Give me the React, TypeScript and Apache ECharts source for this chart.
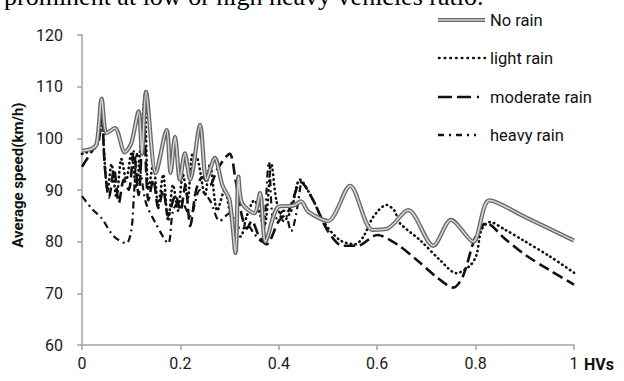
import React, { useEffect, useRef } from "react";
import * as echarts from "echarts";

// ---- data ----
const noRainX = [0, 0.02, 0.03, 0.04, 0.05, 0.067, 0.087, 0.1, 0.115, 0.122, 0.13, 0.15, 0.172, 0.18, 0.189, 0.199, 0.209, 0.22, 0.24, 0.253, 0.27, 0.285, 0.3, 0.312, 0.318, 0.325, 0.35, 0.362, 0.373, 0.4, 0.43, 0.445, 0.46, 0.5, 0.545, 0.59, 0.62, 0.663, 0.714, 0.75, 0.795, 0.828, 0.9, 1];
const noRainY = [97.6, 98, 99, 107.7, 101, 102, 97.3, 99, 105.2, 97, 109, 93.3, 101.6, 93.3, 100.3, 92, 97.1, 92, 102.6, 92, 96.2, 91, 88, 77.8, 92.6, 87.5, 85.5, 89.4, 80, 86.8, 87, 87.8, 85.8, 84, 90.8, 82.3, 82.5, 86.1, 79.2, 84.2, 80, 88, 84.8, 80.2];

const lightX = [0, 0.025, 0.035, 0.04, 0.045, 0.052, 0.06, 0.07, 0.08, 0.09, 0.1, 0.11, 0.12, 0.127, 0.135, 0.145, 0.155, 0.165, 0.175, 0.185, 0.195, 0.205, 0.215, 0.225, 0.235, 0.25, 0.26, 0.275, 0.29, 0.3, 0.31, 0.322, 0.335, 0.35, 0.37, 0.385, 0.395, 0.41, 0.425, 0.443, 0.47, 0.49, 0.524, 0.555, 0.572, 0.592, 0.619, 0.635, 0.646, 0.687, 0.728, 0.761, 0.79, 0.802, 0.812, 0.829, 0.86, 0.896, 0.95, 1];
const lightY = [97, 98, 100, 107, 97, 90, 95, 88.5, 96, 92, 97, 90.5, 100, 107.5, 90, 95, 87, 93, 84, 91, 86, 93, 88.5, 97, 96, 89, 95, 86, 90, 86, 82, 81, 85, 88, 83, 95, 88, 84, 86, 92, 88, 84, 80.3, 79.5, 81, 84.8, 87.1, 86, 83.6, 80.3, 76.4, 73.9, 75.5, 77.5, 82.3, 83.8, 82.3, 80.3, 77.2, 74];

const moderateX = [0, 0.022, 0.035, 0.04, 0.046, 0.055, 0.065, 0.075, 0.085, 0.095, 0.105, 0.115, 0.125, 0.135, 0.145, 0.155, 0.165, 0.175, 0.19, 0.2, 0.21, 0.22, 0.232, 0.245, 0.26, 0.275, 0.3, 0.312, 0.325, 0.335, 0.345, 0.36, 0.375, 0.4, 0.42, 0.445, 0.47, 0.5, 0.53, 0.56, 0.6, 0.64, 0.68, 0.72, 0.755, 0.775, 0.8, 0.822, 0.86, 0.9, 0.95, 1];
const moderateY = [94.5, 97.8, 100, 106.5, 95, 88.5, 94, 87.5, 92, 90, 97.5, 89, 104, 88, 92, 86.5, 90, 85, 89, 86, 91, 83, 90, 92.5, 91, 94, 97, 92, 85, 82.5, 84, 81, 79.5, 84, 86, 91.5, 88, 82, 79.2, 79.2, 81.3, 79.5, 76.5, 73.2, 71.1, 73.5, 81, 83.6, 80.5, 77.5, 74.5, 71.7];

const heavyX = [0, 0.02, 0.04, 0.065, 0.09, 0.1, 0.105, 0.112, 0.12, 0.13, 0.15, 0.175, 0.185, 0.2, 0.22, 0.24, 0.26, 0.28, 0.3, 0.32, 0.335, 0.35, 0.365, 0.38, 0.39, 0.41, 0.425, 0.445];
const heavyY = [88.8, 86.4, 84.5, 81, 79.7, 82, 88, 97, 93, 87.5, 83.5, 79.7, 86, 88, 85, 90, 88, 84, 85.5, 82.7, 83.3, 81.5, 80, 95.5, 84, 86, 82, 91.5];

const seriesNames = ["No rain", "light rain", "moderate rain", "heavy rain"];
const yAxisTitle = "Average speed(km/h)";
const xAxisTitle = "HVs";
const captionText = "prominent at low or high heavy vehicles ratio.";

const pairs = (xs: number[], ys: number[]) => xs.map((x, i) => [x, ys[i]]);

const AXIS_COLOR = "#a3a3a3";
const LABEL_FONT = "Roboto, 'Open Sans', sans-serif";

export default function App() {
  const ref = useRef<HTMLDivElement>(null);
  useEffect(() => {
    if (!ref.current) return;
    const chart = echarts.init(ref.current, undefined, { renderer: "svg" });

    const legendY = [20, 58, 97, 135];
    const lx1 = 438;
    const lx2 = 485;
    const legendText = (i: number) => ({
      type: "text",
      x: 490,
      y: legendY[i],
      style: {
        text: seriesNames[i],
        fill: "#111",
        font: `16.5px ${LABEL_FONT}`,
        textAlign: "left",
        textVerticalAlign: "middle",
        align: "left",
        verticalAlign: "middle",
      },
    });

    const option: any = {
      animation: false,
      backgroundColor: "#ffffff",
      grid: { left: 82, right: 50, top: 35, bottom: 36, containLabel: false },
      xAxis: {
        type: "value",
        min: 0,
        max: 1,
        interval: 0.2,
        axisLine: { show: true, lineStyle: { color: AXIS_COLOR, width: 1.5 } },
        axisTick: { show: true, inside: false, length: 5, lineStyle: { color: AXIS_COLOR, width: 1.5 } },
        axisLabel: { color: "#1a1a1a", fontFamily: LABEL_FONT, fontSize: 16, margin: 10, showMaxLabel: true, showMinLabel: true },
        splitLine: { show: false },
      },
      yAxis: {
        type: "value",
        min: 60,
        max: 120,
        interval: 10,
        axisLine: { show: true, lineStyle: { color: AXIS_COLOR, width: 1.5 } },
        axisTick: { show: true, inside: false, length: 5, lineStyle: { color: AXIS_COLOR, width: 1.5 } },
        axisLabel: { color: "#1a1a1a", fontFamily: LABEL_FONT, fontSize: 16, margin: 19 },
        splitLine: { show: false },
      },
      series: [
        {
          name: seriesNames[3],
          type: "line",
          data: pairs(heavyX, heavyY),
          smooth: 0.3,
          showSymbol: false,
          lineStyle: { color: "#111", width: 2.2, type: [7, 4, 2, 4] },
          z: 2,
        },
        {
          name: seriesNames[2],
          type: "line",
          data: pairs(moderateX, moderateY),
          smooth: 0.3,
          showSymbol: false,
          lineStyle: { color: "#111", width: 2.6, type: [11, 5] },
          z: 3,
        },
        {
          name: seriesNames[1],
          type: "line",
          data: pairs(lightX, lightY),
          smooth: 0.3,
          showSymbol: false,
          lineStyle: { color: "#111", width: 2.6, type: [0.5, 4.2], cap: "round" },
          z: 4,
        },
        {
          name: seriesNames[0],
          type: "line",
          data: pairs(noRainX, noRainY),
          smooth: 0.3,
          showSymbol: false,
          lineStyle: { color: "#666666", width: 4.2 },
          z: 5,
        },
        {
          name: seriesNames[0] + " ",
          type: "line",
          data: pairs(noRainX, noRainY),
          smooth: 0.3,
          showSymbol: false,
          lineStyle: { color: "#d4d4d4", width: 1.6 },
          z: 6,
        },
      ],
      graphic: [
        {
          type: "text",
          x: 4,
          y: -3.5,
          style: {
            text: captionText,
            fill: "#000",
            font: "26px 'Liberation Serif', 'DejaVu Serif', serif",
            textAlign: "left",
            textVerticalAlign: "middle",
            align: "left",
            verticalAlign: "middle",
          },
        },
        {
          type: "text",
          x: 18,
          y: 175,
          rotation: Math.PI / 2,
          style: {
            text: yAxisTitle,
            fill: "#111",
            font: `bold 15px ${LABEL_FONT}`,
            textAlign: "center",
            textVerticalAlign: "middle",
            align: "center",
            verticalAlign: "middle",
          },
        },
        {
          type: "text",
          x: 584,
          y: 364,
          style: {
            text: xAxisTitle,
            fill: "#111",
            font: `bold 16px ${LABEL_FONT}`,
            textAlign: "left",
            textVerticalAlign: "middle",
            align: "left",
            verticalAlign: "middle",
          },
        },
        // legend: No rain (double line)
        { type: "line", shape: { x1: lx1, y1: legendY[0], x2: lx2, y2: legendY[0] }, style: { stroke: "#666666", lineWidth: 4.2 } },
        { type: "line", shape: { x1: lx1, y1: legendY[0], x2: lx2, y2: legendY[0] }, style: { stroke: "#d4d4d4", lineWidth: 1.6 } },
        legendText(0),
        // light rain (dotted)
        { type: "line", shape: { x1: lx1 + 1, y1: legendY[1], x2: lx2, y2: legendY[1] }, style: { stroke: "#111", lineWidth: 2.6, lineDash: [0.5, 5.2], lineCap: "round" } },
        legendText(1),
        // moderate rain (long dash)
        { type: "line", shape: { x1: lx1, y1: legendY[2], x2: lx2, y2: legendY[2] }, style: { stroke: "#111", lineWidth: 2.6, lineDash: [14, 5, 14, 6, 2, 100] } },
        legendText(2),
        // heavy rain (dash dot)
        { type: "line", shape: { x1: lx1, y1: legendY[3], x2: lx2, y2: legendY[3] }, style: { stroke: "#111", lineWidth: 2.4, lineDash: [6, 5, 2, 5, 6, 5, 2, 5, 2, 100] } },
        legendText(3),
      ],
    };

    chart.setOption(option);
    return () => chart.dispose();
  }, []);

  return (
    <div
      ref={ref}
      style={{ position: "fixed", left: 0, top: 0, width: 624, height: 381, background: "#fff" }}
    />
  );
}
